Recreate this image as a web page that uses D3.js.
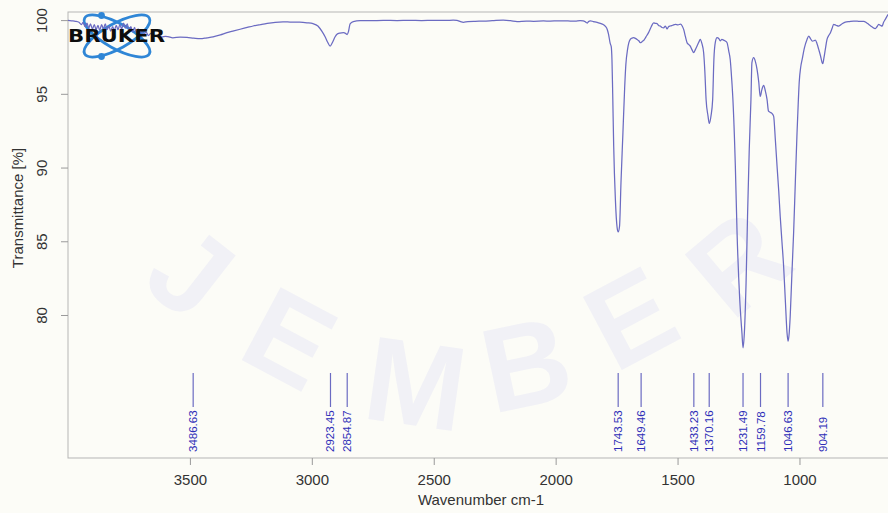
<!DOCTYPE html>
<html>
<head>
<meta charset="utf-8">
<script src="https://cdn.jsdelivr.net/npm/d3@7/dist/d3.min.js"></script>
<style>
  html, body { margin: 0; padding: 0; background: #fcfcf7; }
  svg { display: block; font-family: "Liberation Sans", Arial, Helvetica, sans-serif; }
</style>
</head>
<body>
<svg id="chart" width="888" height="513"></svg>
<script>
// ---- data ----
const wavenumbers = [
  4000, 3985, 3970, 3955, 3945, 3938, 3930, 3922, 3915, 3908, 3900, 3892, 3885, 3877, 3870, 3862, 3855, 3847, 3840, 3832,
  3825, 3817, 3810, 3802, 3795, 3787, 3780, 3772, 3765, 3757, 3750, 3742, 3735, 3727, 3720, 3712, 3705, 3697, 3690, 3680,
  3670, 3660, 3645, 3630, 3615, 3600, 3590, 3570, 3540, 3512, 3485, 3458, 3430, 3405, 3375, 3348, 3320, 3294, 3265, 3241,
  3210, 3183, 3150, 3118, 3089, 3050, 3020, 2995, 2975, 2959, 2945, 2935, 2925, 2915, 2905, 2898, 2885, 2870, 2860, 2855,
  2850, 2843, 2830, 2802, 2760, 2707, 2650, 2600, 2550, 2500, 2450, 2420, 2405, 2390, 2379, 2360, 2330, 2297, 2260, 2215,
  2185, 2158, 2120, 2090, 2050, 2022, 1990, 1950, 1920, 1900, 1887, 1878, 1871, 1865, 1858, 1845, 1830, 1817, 1805, 1796,
  1788, 1783, 1776, 1772, 1769, 1766, 1762, 1755, 1748, 1743.5, 1738, 1732, 1724, 1717, 1712, 1705, 1700, 1694, 1687, 1680,
  1673, 1666, 1659, 1653, 1648, 1643, 1639, 1630, 1619, 1608, 1598, 1591, 1584, 1577, 1571, 1564, 1557, 1550, 1543, 1537,
  1530, 1520, 1509, 1498, 1488, 1481, 1475, 1468, 1461, 1455, 1448, 1441, 1434, 1427, 1420, 1413, 1407, 1400, 1393, 1388,
  1383, 1375, 1370, 1363, 1356, 1351, 1345, 1338, 1331, 1325, 1318, 1311, 1304, 1297, 1290, 1284, 1278, 1273, 1263, 1256,
  1245, 1236, 1231.5, 1226, 1219, 1213, 1206, 1199, 1195, 1188, 1181, 1174, 1167, 1161, 1154, 1147, 1140, 1133, 1127, 1120,
  1113, 1106, 1099, 1092, 1085, 1079, 1072, 1065, 1058, 1051, 1046.6, 1042, 1038, 1031, 1024, 1017, 1010, 1005, 1001, 995,
  989, 980, 969, 962, 955, 948, 941, 935, 928, 921, 914, 907, 904, 900, 894, 887, 880, 873, 866, 860,
  850, 839, 825, 812, 795, 778, 757, 737, 725, 716, 703, 689, 682, 675, 668, 661, 655, 648, 635, 620
];
const transmittance = [
  99.98, 99.95, 99.92, 99.85, 99.70, 99.85, 99.55, 99.80, 99.45, 99.75, 99.40, 99.70, 99.35, 99.65, 99.30, 99.70, 99.40, 99.75, 99.35, 99.60,
  99.25, 99.55, 99.30, 99.65, 99.35, 99.70, 99.40, 99.80, 99.45, 99.75, 99.30, 99.55, 99.20, 99.50, 99.15, 99.40, 99.05, 99.30, 99.00, 99.20,
  98.95, 99.10, 98.90, 98.95, 98.85, 98.90, 98.88, 98.80, 98.85, 98.83, 98.78, 98.74, 98.80, 98.86, 99.00, 99.15, 99.27, 99.38, 99.50, 99.60,
  99.70, 99.78, 99.85, 99.88, 99.87, 99.86, 99.82, 99.76, 99.60, 99.25, 98.85, 98.50, 98.24, 98.50, 98.85, 99.03, 99.12, 99.15, 99.08, 99.02,
  99.20, 99.75, 99.90, 99.97, 99.96, 99.98, 99.97, 99.99, 99.97, 99.99, 99.98, 100.00, 99.98, 99.90, 99.85, 99.90, 99.92, 99.93, 99.96, 100.00,
  99.96, 99.90, 99.93, 99.92, 99.94, 99.93, 99.95, 99.94, 99.93, 99.97, 99.95, 99.88, 99.80, 99.90, 99.95, 99.90, 99.85, 99.78, 99.70, 99.58,
  99.35, 99.03, 98.40, 98.20, 97.30, 95.00, 91.50, 87.84, 85.94, 85.63, 86.02, 88.99, 92.38, 95.40, 97.00, 98.01, 98.45, 98.69, 98.78, 98.81,
  98.76, 98.69, 98.60, 98.47, 98.50, 98.58, 98.62, 98.85, 99.15, 99.55, 99.82, 99.78, 99.76, 99.62, 99.60, 99.50, 99.48, 99.60, 99.40, 99.55,
  99.60, 99.65, 99.71, 99.68, 99.72, 99.60, 99.37, 98.90, 98.47, 98.35, 98.24, 98.00, 97.79, 98.00, 98.24, 98.50, 98.69, 98.40, 97.79, 96.50,
  94.62, 93.49, 92.99, 93.49, 94.62, 97.33, 98.50, 98.81, 98.75, 98.60, 98.69, 98.64, 98.58, 98.47, 97.90, 97.33, 96.00, 94.62, 90.09, 85.58,
  81.05, 78.79, 77.77, 78.79, 82.18, 86.70, 91.23, 94.62, 97.11, 97.45, 97.20, 96.66, 95.80, 94.82, 95.30, 95.57, 95.20, 94.62, 93.83, 93.75,
  93.67, 93.49, 91.90, 90.10, 88.40, 86.70, 85.00, 83.31, 81.00, 78.79, 78.22, 78.80, 79.92, 82.80, 85.58, 89.00, 92.36, 94.40, 95.80, 96.80,
  97.33, 98.10, 98.69, 98.91, 98.75, 98.58, 98.60, 98.64, 98.40, 98.01, 97.60, 97.11, 97.05, 97.40, 98.01, 98.69, 98.95, 99.15, 99.45, 99.71,
  99.65, 99.59, 99.75, 99.86, 99.90, 99.93, 99.92, 99.91, 99.82, 99.71, 99.55, 99.42, 99.55, 99.71, 99.65, 99.59, 99.85, 100.05, 100.40, 100.50
];
const peakLabels = ["3486.63", "2923.45", "2854.87", "1743.53", "1649.46", "1433.23", "1370.16", "1231.49", "1159.78", "1046.63", "904.19"];
const xTickValues = [3500, 3000, 2500, 2000, 1500, 1000];
const yTickValues = [80, 85, 90, 95, 100];

// ---- layout ----
const svg = d3.select("#chart");
const plotL = 68, plotR = 897, plotT = 12, plotB = 458;

const x = d3.scaleLinear().domain([4000, 600]).range([plotL, plotR]);
const y = d3.scaleLinear().domain([70.3, 100.55]).range([plotB, plotT]);

// background
svg.append("rect").attr("x", 0).attr("y", 0).attr("width", 888).attr("height", 513).attr("fill", "#fcfcf7");

// very faint watermark letters
const wm = svg.append("g").attr("fill", "#f1f1f6").attr("font-weight", "bold").attr("font-size", 120)
  .attr("font-family", "'Liberation Sans', Arial, sans-serif");
[["J", 165, 305, 38], ["E", 270, 375, 28], ["M", 410, 425, 8], ["B", 535, 405, -12], ["E", 650, 355, -28], ["R", 765, 295, -40]]
  .forEach(([t, cx, cy, r]) => {
    wm.append("text").attr("transform", `translate(${cx},${cy}) rotate(${r})`).attr("text-anchor", "middle").text(t);
  });

// clip
svg.append("defs").append("clipPath").attr("id", "clip")
  .append("rect").attr("x", plotL).attr("y", plotT).attr("width", plotR - plotL).attr("height", plotB - plotT);

// box
svg.append("rect").attr("x", plotL).attr("y", plotT).attr("width", plotR - plotL).attr("height", plotB - plotT)
  .attr("fill", "none").attr("stroke", "#b5b5b5").attr("stroke-width", 1);

// x axis
const xAxis = svg.append("g").attr("transform", `translate(0,${plotB})`)
  .call(d3.axisBottom(x).tickValues(xTickValues).tickSize(7).tickPadding(9).tickFormat(d3.format("d")));
xAxis.select(".domain").remove();
xAxis.selectAll(".tick line").attr("stroke", "#9a9a9a");
xAxis.selectAll(".tick text").attr("font-size", 15).attr("fill", "#333").attr("font-family", "'Liberation Sans', Arial, sans-serif");

// y axis
const yAxis = svg.append("g").attr("transform", `translate(${plotL},0)`)
  .call(d3.axisLeft(y).tickValues(yTickValues).tickSize(7).tickFormat(d3.format("d")));
yAxis.select(".domain").remove();
yAxis.selectAll(".tick line").attr("stroke", "#9a9a9a");
yAxis.selectAll(".tick text")
  .attr("font-size", 15).attr("fill", "#333").attr("font-family", "'Liberation Sans', Arial, sans-serif")
  .attr("x", null)
  .attr("text-anchor", "middle")
  .attr("transform", "translate(-26,0) rotate(-90)")
  .attr("dy", "0.35em");

// axis titles
svg.append("text").attr("x", 481).attr("y", 505).attr("text-anchor", "middle")
  .attr("font-size", 15).attr("fill", "#333").text("Wavenumber cm-1");
svg.append("text").attr("transform", "translate(23,208) rotate(-90)").attr("text-anchor", "middle")
  .attr("font-size", 15).attr("fill", "#333").text("Transmittance [%]");

// BRUKER logo orbits (under the spectrum)
const logo = svg.append("g");
const lcx = 117, lcy = 36;
[-29, 29].forEach(a => {
  logo.append("ellipse").attr("cx", lcx).attr("cy", lcy).attr("rx", 37).attr("ry", 12.5)
    .attr("transform", `rotate(${a},${lcx},${lcy})`)
    .attr("fill", "none").attr("stroke", "#2f86d6").attr("stroke-width", 2.8);
});
logo.append("circle").attr("cx", 101.5).attr("cy", 15.5).attr("r", 3.4).attr("fill", "#2f86d6");
logo.append("circle").attr("cx", 101.5).attr("cy", 56.5).attr("r", 3.4).attr("fill", "#2f86d6");

// spectrum
const spectrum = wavenumbers.map((w, i) => ({ w: w, t: transmittance[i] }));
const line = d3.line().x(d => x(d.w)).y(d => y(d.t)).curve(d3.curveMonotoneX);
svg.append("path").datum(spectrum).attr("clip-path", "url(#clip)")
  .attr("d", line).attr("fill", "none").attr("stroke", "#6b6bc2").attr("stroke-width", 1.25);

// peak markers
const pk = svg.append("g");
peakLabels.forEach(lbl => {
  const px = x(+lbl);
  pk.append("line").attr("x1", px).attr("x2", px).attr("y1", 373).attr("y2", 407)
    .attr("stroke", "#6b6bc2").attr("stroke-width", 1.2);
  pk.append("text").attr("transform", `translate(${px + 4},452) rotate(-90)`)
    .attr("font-size", 11.5).attr("fill", "#2e2eb8").attr("text-anchor", "start").text(lbl);
});

// BRUKER wordmark (on top)
svg.append("text").attr("x", 68).attr("y", 42).attr("font-size", 17).attr("font-weight", "bold")
  .attr("font-family", "'DejaVu Sans', sans-serif")
  .attr("fill", "#0d0d0d").attr("textLength", 97).attr("lengthAdjust", "spacingAndGlyphs").text("BRUKER");
</script>
</body>
</html>
